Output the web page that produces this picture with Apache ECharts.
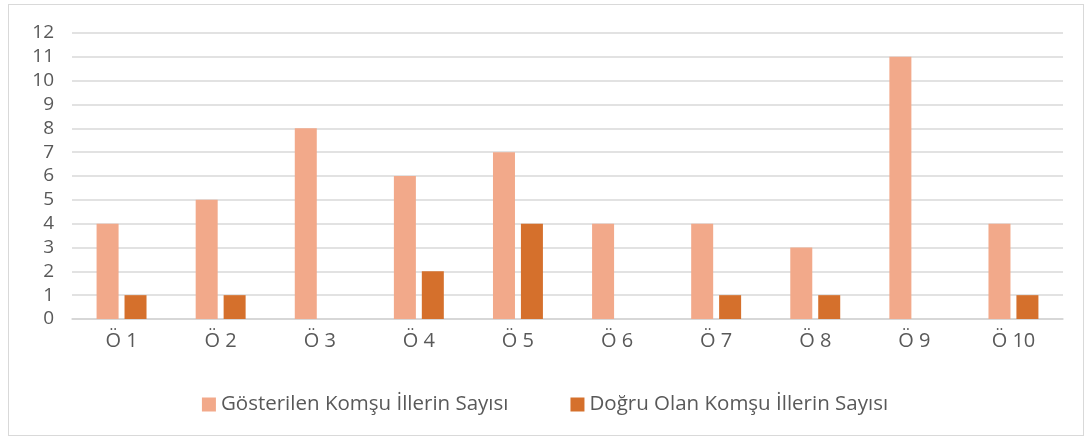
<!DOCTYPE html>
<html>
<head>
<meta charset="utf-8">
<script src="https://cdn.jsdelivr.net/npm/echarts@6/dist/echarts.min.js"></script>
<style>
html,body{margin:0;padding:0;background:#fff;}
#frame{position:absolute;left:8px;top:4px;width:1076px;height:432px;border:1px solid #d9d9d9;box-sizing:border-box;}
#main{position:absolute;left:0;top:0;width:1090px;height:441px;}
</style>
</head>
<body>
<div id="frame"></div>
<div id="main"></div>
<script>
// veriler
var kategoriler = ['Ö 1','Ö 2','Ö 3','Ö 4','Ö 5','Ö 6','Ö 7','Ö 8','Ö 9','Ö 10'];
var gosterilen = [4,5,8,6,7,4,4,3,11,4];
var dogru = [1,1,0,2,4,0,1,1,0,1];
var seriAdlari = ['Gösterilen Komşu İllerin Sayısı','Doğru Olan Komşu İllerin Sayısı'];
var renkler = ['#f2a98a','#d5702c'];
var yazi = "'Open Sans', 'Noto Sans', sans-serif";

var myChart = echarts.init(document.getElementById('main'));
myChart.setOption({
	animation:false,
	color:renkler,
	grid:{left:72,right:27,top:33,bottom:122},
	legend:{
		bottom:21,
		left:'center',
		itemWidth:14,
		itemHeight:14,
		itemGap:62,
		icon:'rect',
		textStyle:{color:'#595959',fontSize:20.5,fontFamily:yazi},
		data:seriAdlari
	},
	xAxis:{
		type:'category',
		data:kategoriler,
		axisTick:{show:false},
		axisLine:{lineStyle:{color:'#d4d4d4',width:1.5}},
		axisLabel:{color:'#595959',fontSize:20,fontFamily:yazi,margin:12}
	},
	yAxis:{
		type:'value',
		min:0,
		max:12,
		interval:1,
		axisLine:{show:false},
		axisTick:{show:false},
		splitLine:{lineStyle:{color:'#d9d9d9',width:1.5}},
		axisLabel:{color:'#595959',fontSize:19,fontFamily:yazi,margin:18}
	},
	series:[
		{
			name:seriAdlari[0],
			type:'bar',
			data:gosterilen,
			barWidth:22,
			barGap:'27%'
		},
		{
			name:seriAdlari[1],
			type:'bar',
			data:dogru,
			barWidth:22
		}
	]
});
</script>
</body>
</html>
